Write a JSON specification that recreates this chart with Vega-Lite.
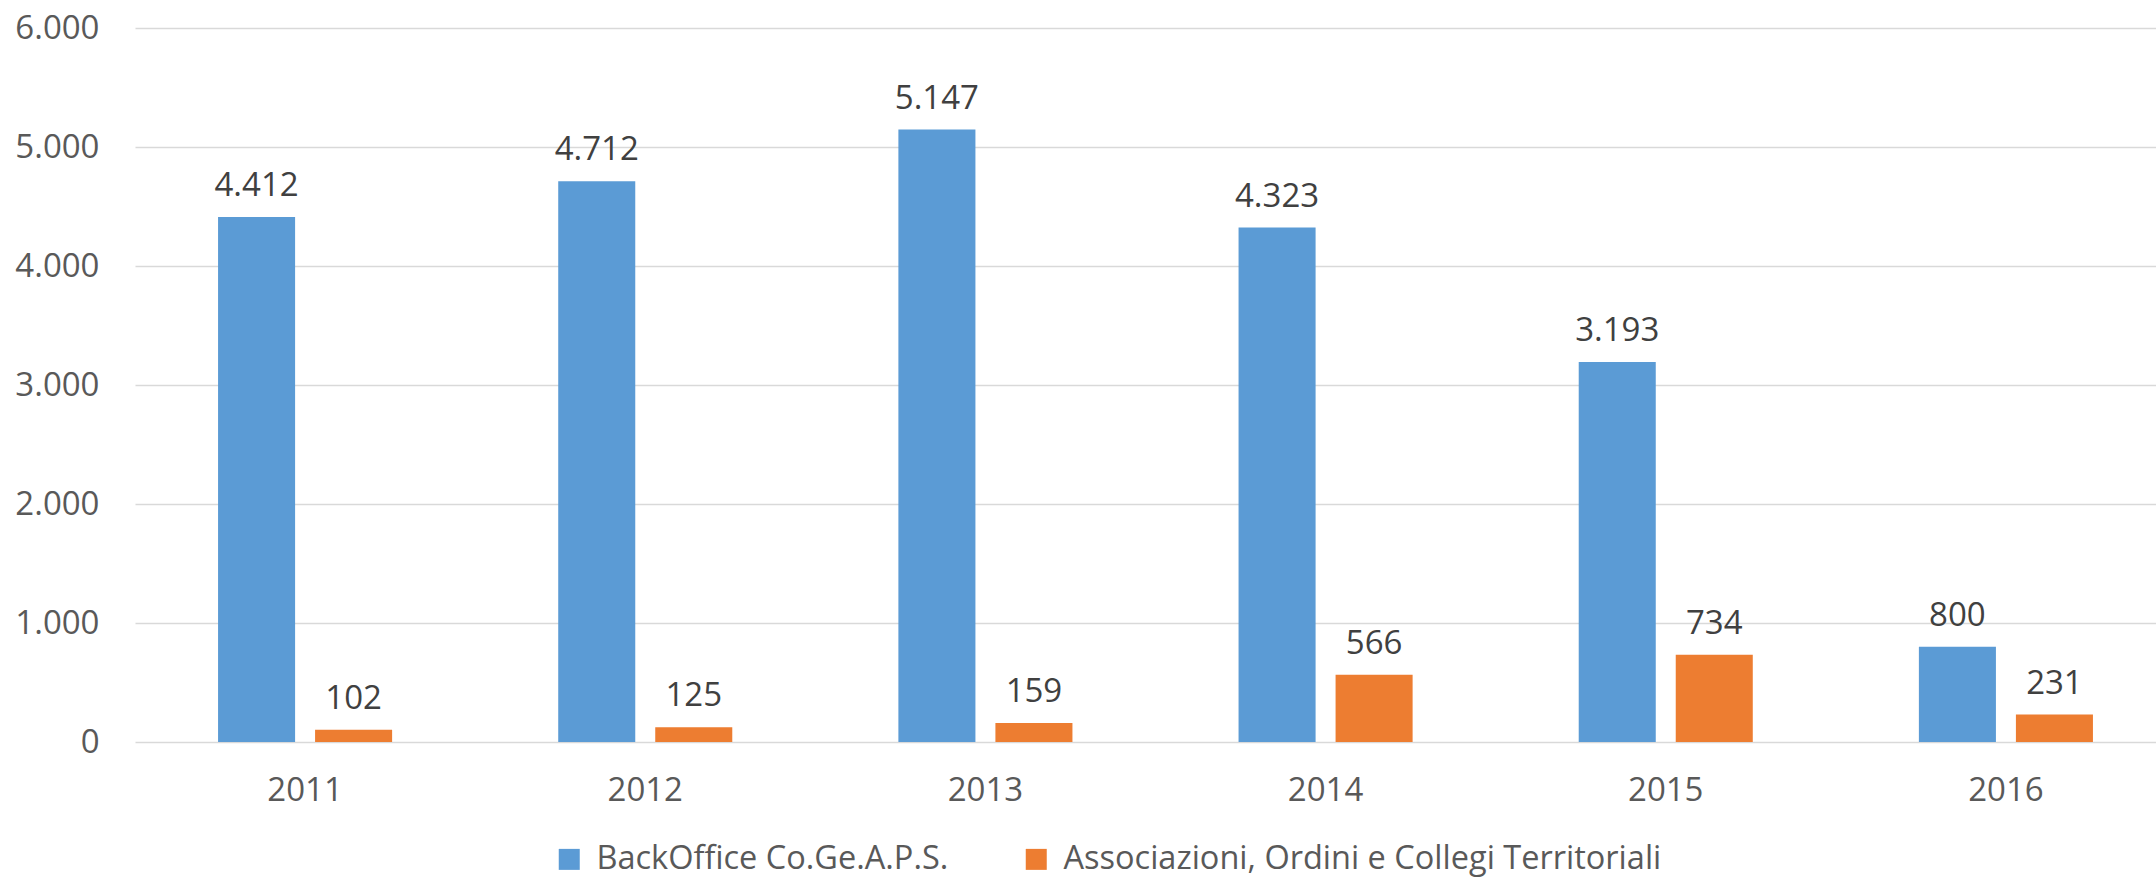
{
  "$schema": "https://vega.github.io/schema/vega-lite/v6.json",
  "width": 2021,
  "height": 714,
  "autosize": {"type": "none"},
  "padding": {"left": 135, "top": 28, "right": 0, "bottom": 136},
  "background": "white",
  "config": {
    "locale": {"number": {"decimal": ",", "thousands": ".", "grouping": [3], "currency": ["€", ""]}},
    "view": {"stroke": null},
    "font": "Open Sans"
  },
  "data": {
    "values": [
      {"anno": "2011", "serie": "BackOffice Co.Ge.A.P.S.", "valore": 4412},
      {"anno": "2011", "serie": "Associazioni, Ordini e Collegi Territoriali", "valore": 102},
      {"anno": "2012", "serie": "BackOffice Co.Ge.A.P.S.", "valore": 4712},
      {"anno": "2012", "serie": "Associazioni, Ordini e Collegi Territoriali", "valore": 125},
      {"anno": "2013", "serie": "BackOffice Co.Ge.A.P.S.", "valore": 5147},
      {"anno": "2013", "serie": "Associazioni, Ordini e Collegi Territoriali", "valore": 159},
      {"anno": "2014", "serie": "BackOffice Co.Ge.A.P.S.", "valore": 4323},
      {"anno": "2014", "serie": "Associazioni, Ordini e Collegi Territoriali", "valore": 566},
      {"anno": "2015", "serie": "BackOffice Co.Ge.A.P.S.", "valore": 3193},
      {"anno": "2015", "serie": "Associazioni, Ordini e Collegi Territoriali", "valore": 734},
      {"anno": "2016", "serie": "BackOffice Co.Ge.A.P.S.", "valore": 800},
      {"anno": "2016", "serie": "Associazioni, Ordini e Collegi Territoriali", "valore": 231}
    ]
  },
  "encoding": {
    "x": {
      "field": "anno", "type": "nominal",
      "scale": {"range": [0, 2041], "paddingInner": 0, "paddingOuter": 0},
      "axis": {"title": null, "labelAngle": 0, "domain": false, "ticks": false, "grid": false,
               "labelFontSize": 33, "labelColor": "#595959", "labelBaseline": "middle", "labelPadding": 48, "labelFont": "Open Sans"}
    },
    "xOffset": {
      "field": "serie", "type": "nominal",
      "sort": ["BackOffice Co.Ge.A.P.S.", "Associazioni, Ordini e Collegi Territoriali"],
      "scale": {"paddingInner": 0.206, "paddingOuter": 0.856}
    },
    "y": {
      "field": "valore", "type": "quantitative",
      "scale": {"domain": [0, 6000]},
      "axis": {"title": null, "values": [0, 1000, 2000, 3000, 4000, 5000, 6000], "format": ",d",
               "domain": false, "ticks": false, "gridColor": "#D9D9D9", "gridWidth": 1.4,
               "labelFontSize": 33, "labelColor": "#595959", "labelPadding": 36, "labelFont": "Open Sans"}
    }
  },
  "layer": [
    {
      "mark": {"type": "bar"},
      "encoding": {
        "color": {
          "field": "serie", "type": "nominal",
          "sort": ["BackOffice Co.Ge.A.P.S.", "Associazioni, Ordini e Collegi Territoriali"],
          "scale": {"domain": ["BackOffice Co.Ge.A.P.S.", "Associazioni, Ordini e Collegi Territoriali"], "range": ["#5B9BD5", "#ED7D31"]},
          "legend": {
            "title": null, "orient": "none", "direction": "horizontal", "legendX": 418, "legendY": 815,
            "symbolType": "square", "symbolSize": 441, "symbolStrokeWidth": 0, "symbolOpacity": 1,
            "labelFontSize": 32.5, "labelColor": "#595959", "labelOffset": 11, "labelLimit": 1000,
            "columnPadding": 71, "labelFont": "Open Sans"
          }
        }
      }
    },
    {
      "mark": {"type": "text", "baseline": "alphabetic", "dy": -21, "fontSize": 33, "color": "#404040", "font": "Open Sans"},
      "encoding": {
        "text": {"field": "valore", "type": "quantitative", "format": ",d"}
      }
    }
  ]
}
